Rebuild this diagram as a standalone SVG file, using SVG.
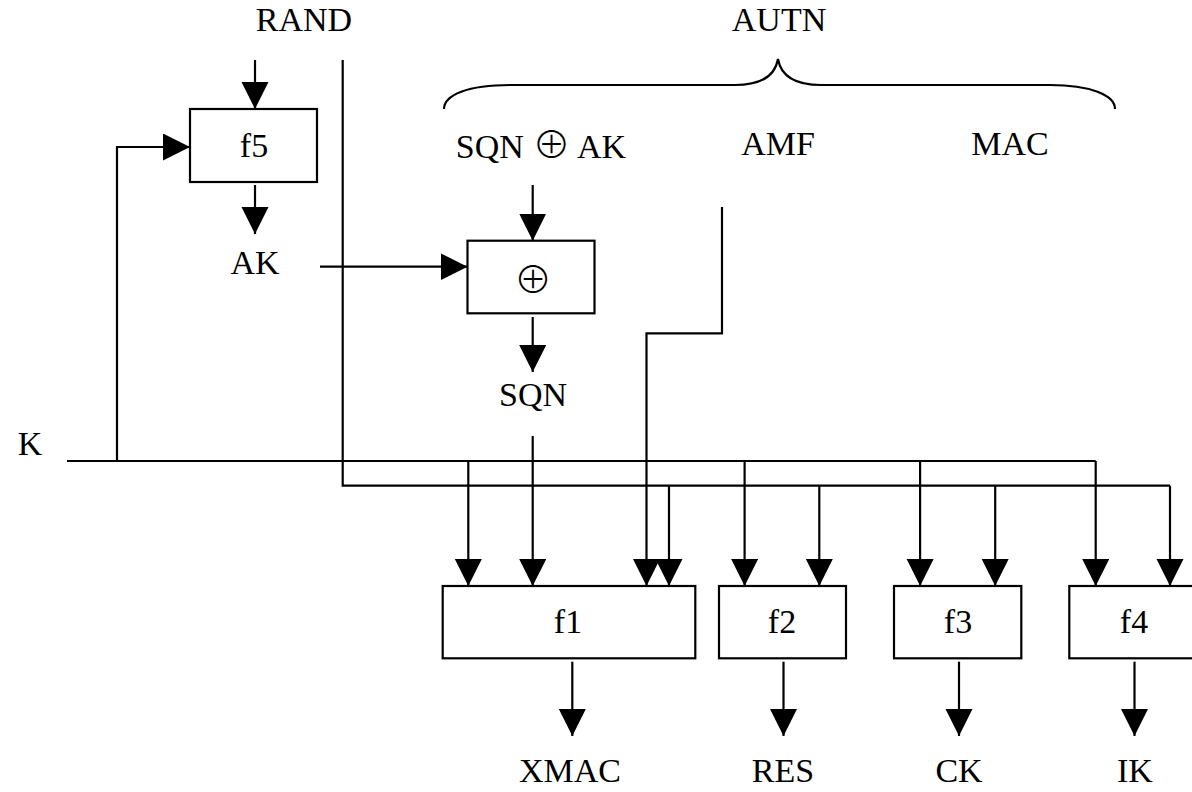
<svg xmlns="http://www.w3.org/2000/svg" width="1192" height="792" viewBox="0 0 1192 792">
<style>
text{font-family:"Liberation Serif","DejaVu Serif","Times New Roman",serif;font-size:34px;fill:#000;text-anchor:middle}
.op{font-family:"Noto Sans CJK SC","DejaVu Sans",sans-serif;font-weight:300;font-size:38px}
.box{fill:#fff;stroke:#000;stroke-width:2.2}
.ln{fill:none;stroke:#000;stroke-width:2.2}
.ar{fill:none;stroke:#000;stroke-width:2.2;marker-end:url(#ah)}
</style>
<defs>
<marker id="ah" markerUnits="userSpaceOnUse" markerWidth="28" markerHeight="28" refX="27" refY="13.5" orient="auto" viewBox="0 0 28 28">
<path d="M0,0 L27,13.5 L0,27 Z" fill="#000"/>
</marker>
</defs>
<rect width="1192" height="792" fill="#fff"/>
<g id="labels">
<text x="304" y="31">RAND</text>
<text x="779" y="31">AUTN</text>
<text x="541" y="158">SQN <tspan class="op">⊕</tspan> AK</text>
<text x="778" y="155">AMF</text>
<text x="1010" y="155">MAC</text>
<text x="255" y="274">AK</text>
<text x="533" y="406">SQN</text>
<text x="30" y="455">K</text>
<text x="570" y="782">XMAC</text>
<text x="783" y="782">RES</text>
<text x="959" y="782">CK</text>
<text x="1135" y="782">IK</text>
</g>
<g id="brace">
<path class="ln" d="M444,109 C444,95 468,85 510,85 L735,85 C760,85 775,76 778,59 C781,76 796,85 821,85 L1050,85 C1090,85 1115,95 1115,109"/>
</g>
<g id="connectors">
<path class="ar" d="M255,60 L255,109"/>
<path class="ar" d="M255,185 L255,234"/>
<path class="ar" d="M320,266.7 L467.5,266.7"/>
<path class="ar" d="M532.7,185 L532.7,240.7"/>
<path class="ar" d="M532.7,317 L532.7,372"/>
<path class="ar" d="M532.7,436 L532.7,586"/>
<path class="ln" d="M67,461 L1095.7,461"/>
<path class="ar" d="M117,461 L117,147 L190,147"/>
<path class="ar" d="M468.3,461 L468.3,586"/>
<path class="ar" d="M744.6,461 L744.6,586"/>
<path class="ar" d="M920.1,461 L920.1,586"/>
<path class="ar" d="M1095.7,461 L1095.7,586"/>
<path class="ln" d="M342.7,60 L342.7,485.7 L1170,485.7"/>
<path class="ar" d="M669,485.7 L669,586"/>
<path class="ar" d="M819.3,485.7 L819.3,586"/>
<path class="ar" d="M995.2,485.7 L995.2,586"/>
<path class="ar" d="M1170,485.7 L1170,586"/>
<path class="ar" d="M722,207 L722,333.3 L646.5,333.3 L646.5,586"/>
<path class="ar" d="M572.3,661.7 L572.3,736"/>
<path class="ar" d="M783.5,661.7 L783.5,736"/>
<path class="ar" d="M959,661.7 L959,736"/>
<path class="ar" d="M1134.5,661.7 L1134.5,736"/>
</g>
<g id="f5"><rect class="box" x="190" y="109" width="127" height="73"/><text x="254" y="157">f5</text></g>
<g id="xor"><rect class="box" x="467.5" y="240.7" width="127" height="72.6"/><text class="op" x="533" y="293">⊕</text></g>
<g id="f1"><rect class="box" x="442.7" y="586" width="252.6" height="72.3"/><text x="568" y="633">f1</text></g>
<g id="f2"><rect class="box" x="719" y="586" width="127" height="72.3"/><text x="782" y="633">f2</text></g>
<g id="f3"><rect class="box" x="894" y="586" width="127.3" height="72.3"/><text x="958" y="633">f3</text></g>
<g id="f4"><rect class="box" x="1069.3" y="586" width="127" height="72.3"/><text x="1134" y="633">f4</text></g>
</svg>
